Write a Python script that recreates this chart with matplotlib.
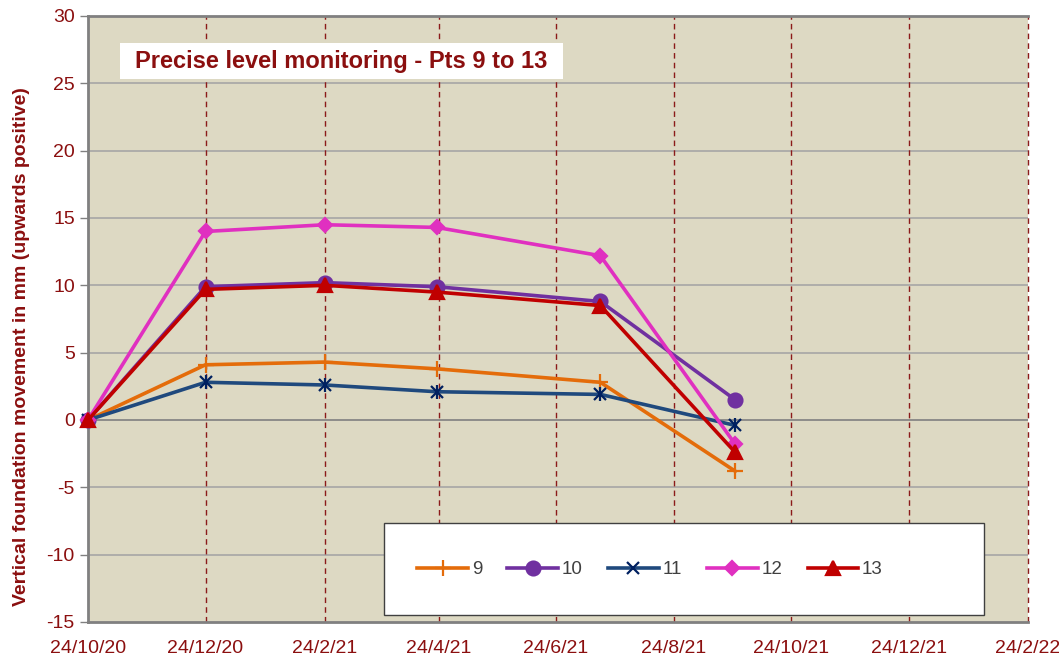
import matplotlib
matplotlib.use("Agg")
import matplotlib.pyplot as plt
from matplotlib.patches import Rectangle
from datetime import date

plt.rcParams['font.family'] = ['Liberation Sans', 'DejaVu Sans']
plt.rcParams['axes.unicode_minus'] = False

# survey dates and readings (mm)
dates = [date(2020, 10, 24), date(2020, 12, 24), date(2021, 2, 24),
         date(2021, 4, 23), date(2021, 7, 17), date(2021, 9, 25)]
pt9 = [0, 4.1, 4.3, 3.8, 2.8, -3.8]
pt10 = [0, 9.9, 10.2, 9.9, 8.8, 1.5]
pt11 = [0, 2.8, 2.6, 2.1, 1.9, -0.4]
pt12 = [0, 14.0, 14.5, 14.3, 12.2, -1.8]
pt13 = [0, 9.7, 10.0, 9.5, 8.5, -2.4]

tick_dates = [date(2020, 10, 24), date(2020, 12, 24), date(2021, 2, 24),
              date(2021, 4, 24), date(2021, 6, 24), date(2021, 8, 24),
              date(2021, 10, 24), date(2021, 12, 24), date(2022, 2, 24)]
tick_labels = ['24/10/20', '24/12/20', '24/2/21', '24/4/21', '24/6/21',
               '24/8/21', '24/10/21', '24/12/21', '24/2/22']

red = '#8B0F0F'

fig = plt.figure(figsize=(10.59, 6.6), dpi=100)
ax = fig.add_axes([88/1059, 38/660, 940/1059, 606/660])
ax.set_facecolor('#DDD9C3')

ax.set_xlim(tick_dates[0], tick_dates[-1])
ax.set_ylim(-15, 30)
ax.set_yticks(range(-15, 31, 5))
ax.set_xticks(tick_dates)
ax.set_xticklabels(tick_labels)

for y in range(-10, 30, 5):
    ax.axhline(y, color='#808080' if y == 0 else '#A6A6A6', lw=1.2, zorder=1)
for d in tick_dates[1:]:
    ax.axvline(d, color='#8B1A1A', lw=1, ls=(0, (4, 3)), zorder=1,
               clip_on=False)

series = [
    ('9', pt9, '#E46C0A', '+', 11, '#E46C0A'),
    ('10', pt10, '#7030A0', 'o', 10, '#7030A0'),
    ('11', pt11, '#1F497D', 'x', 8, '#002060'),
    ('12', pt12, '#E030C0', 'D', 7, '#E030C0'),
    ('13', pt13, '#C00000', '^', 10, '#C00000'),
]
handles = []
for name, vals, col, mk, ms, mcol in series:
    h, = ax.plot(dates, vals, color=col, lw=2.6, marker=mk, ms=ms,
                 mfc=mcol, mec=mcol, mew=1.6, label=name, zorder=3,
                 clip_on=False)
    if name == '11':
        ax.plot(dates, vals, ls='none', marker='|', ms=10, mec=mcol,
                mew=1.6, zorder=3, clip_on=False)
    handles.append(h)

for s in ['left', 'bottom', 'top']:
    ax.spines[s].set_color('#808080')
    ax.spines[s].set_linewidth(2)
ax.spines['right'].set_visible(False)

ax.tick_params(axis='both', colors='#808080', labelcolor=red, labelsize=14)
ax.tick_params(axis='y', length=6, width=1)
ax.tick_params(axis='x', length=0, pad=13)

ax.set_ylabel('Vertical foundation movement in mm (upwards positive)',
              color=red, fontsize=14, fontweight='bold')
ax.yaxis.set_label_coords(-0.062, 0.454)

# title box
ax.add_patch(Rectangle((0.034, 0.896), 0.471, 0.059, transform=ax.transAxes,
                       facecolor='white', edgecolor='none', zorder=4))
ax.text(0.2695, 0.9255, 'Precise level monitoring - Pts 9 to 13',
        transform=ax.transAxes, color=red, fontsize=17, fontweight='bold',
        va='center', ha='center', zorder=5)

# legend box
ax.add_patch(Rectangle((0.315, 0.012), 0.638, 0.151, transform=ax.transAxes,
                       facecolor='white', edgecolor='#404040', lw=1, zorder=4))
leg = ax.legend(handles=handles, loc='center', bbox_to_anchor=(0.598, 0.086),
                ncol=5, frameon=False, fontsize=13.5, handlelength=2.7,
                handletextpad=0.2, columnspacing=1.35)
leg.set_zorder(6)
for t in leg.get_texts():
    t.set_color('#404040')

fig.savefig('out.png', dpi=100)
